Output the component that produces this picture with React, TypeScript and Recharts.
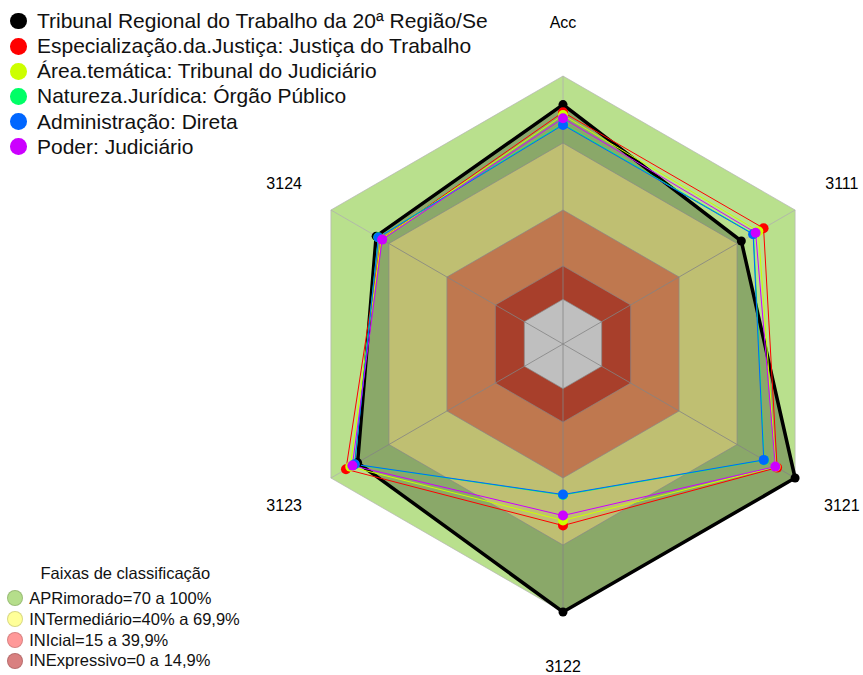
import { RadarChart, Radar, PolarGrid, PolarAngleAxis, PolarRadiusAxis } from "recharts";

// Axes of the radar (clockwise from the top)
const categories = ["Acc", "3111", "3121", "3122", "3123", "3124"];

// Scores (%) per series, same order as categories
const tribunal = [87.2, 72.2, 100, 100, 86.2, 76.6];
const especializacao = [83.8, 83.7, 90.7, 61.3, 92.2, 74.0];
const areaTematica = [82.5, 81.0, 90.0, 59.0, 90.0, 74.0];
const natureza = [78.5, 78.5, 84.0, 47.6, 87.8, 75.5];
const administracao = [78.1, 78.3, 83.8, 47.4, 87.7, 75.4];
const poder = [81.1, 79.6, 89.8, 56.8, 88.9, 73.5];

const seriesNames = [
    "Tribunal Regional do Trabalho da 20ª Região/Se",
    "Especialização.da.Justiça: Justiça do Trabalho",
    "Área.temática: Tribunal do Judiciário",
    "Natureza.Jurídica: Órgão Público",
    "Administração: Direta",
    "Poder: Judiciário",
];
const seriesValues = [tribunal, especializacao, areaTematica, natureza, administracao, poder];
const seriesColors = ["#000000", "#FF0000", "#CCFF00", "#00FF66", "#0066FF", "#CC00FF"];

// Classification bands (upper limits, %)
const bandLimits = [100, 70, 40, 15, 0];
const bandFills = ["#B9E08D", "#FFFF99", "#FFA06A", "#E0553A", "#FFFFFF"];

const bandLegendLabels = [
    "APRimorado=70 a 100%",
    "INTermediário=40% a 69,9%",
    "INIcial=15 a 39,9%",
    "INExpressivo=0 a 14,9%",
];
const bandLegendColors = ["#B5DE8B", "#FFFF99", "#FF9999", "#D98080"];

const FONT = '"Liberation Sans", Arial, sans-serif';

const rows = categories.map((cat, i) => {
    const row: Record<string, string | number> = { cat };
    seriesValues.forEach((vals, s) => {
        row[`s${s}`] = vals[i];
    });
    bandLimits.forEach((lim, b) => {
        row[`b${b}`] = lim;
    });
    return row;
});

function AxisTick(props: any) {
    const { x, y, payload } = props;
    return (
        <text
            x={x}
            y={y}
            textAnchor="middle"
            dominantBaseline="central"
            fontSize={16}
            fontFamily={FONT}
            fill="#000"
        >
            {payload.value}
        </text>
    );
}

function makeDot(color: string, r: number) {
    return (p: any) => (
        <circle key={`dot-${color}-${p.index}`} cx={p.cx} cy={p.cy} r={r} fill={color} fillOpacity={1} stroke="none" />
    );
}

export default function App() {
    return (
        <div style={{ position: "relative", width: 863, height: 675, fontFamily: FONT, overflow: "hidden" }}>
            <style>{`html, body { margin: 0; padding: 0; overflow: hidden; }`}</style>
            <RadarChart
                width={863}
                height={675}
                data={rows}
                cx={563}
                cy={344}
                outerRadius={268}
                margin={{ top: 0, right: 0, bottom: 0, left: 0 }}
            >
                <PolarRadiusAxis domain={[-20, 100]} type="number" tick={false} axisLine={false} />
                <PolarAngleAxis dataKey="cat" tick={<AxisTick />} tickSize={54} tickLine={false} axisLine={false} />
                {bandLimits.map((lim, b) => (
                    <Radar
                        key={`band-${lim}`}
                        dataKey={`b${b}`}
                        fill={bandFills[b]}
                        fillOpacity={1}
                        stroke="#B4B4B4"
                        strokeWidth={0.7}
                        dot={false}
                        isAnimationActive={false}
                        zIndex={-150}
                    />
                ))}
                <PolarGrid gridType="polygon" polarRadius={[]} stroke="#B0B0B0" strokeWidth={0.8} zIndex={-100} />
                {seriesValues.map((_, s) => (
                    <Radar
                        key={`series-${s}`}
                        dataKey={`s${s}`}
                        name={seriesNames[s]}
                        stroke={seriesColors[s]}
                        strokeWidth={s === 0 ? 3.5 : 1}
                        fill={s === 0 ? "#000000" : "none"}
                        fillOpacity={s === 0 ? 0.25 : 0}
                        dot={makeDot(seriesColors[s], s === 0 ? 4.5 : 5)}
                        isAnimationActive={false}
                        zIndex={100 + s}
                    />
                ))}
            </RadarChart>

            {/* series legend, top left */}
            <div style={{ position: "absolute", left: 10, top: 8.5 }}>
                {seriesNames.map((name, s) => (
                    <div key={name} style={{ display: "flex", alignItems: "center", height: 25.15 }}>
                        <span
                            style={{
                                display: "inline-block",
                                width: 16.6,
                                height: 16.6,
                                borderRadius: "50%",
                                background: seriesColors[s],
                                marginRight: 10.4,
                                flex: "none",
                            }}
                        />
                        <span style={{ fontSize: 21, color: "#111", whiteSpace: "nowrap" }}>{name}</span>
                    </div>
                ))}
            </div>

            {/* classification bands legend, bottom left */}
            <div
                style={{
                    position: "absolute",
                    left: 40.5,
                    top: 564,
                    fontSize: 16.5,
                    color: "#111",
                    whiteSpace: "nowrap",
                }}
            >
                Faixas de classificação
            </div>
            <div style={{ position: "absolute", left: 6.7, top: 587.8, color: "#111" }}>
                {bandLegendLabels.map((label, b) => (
                    <div key={label} style={{ display: "flex", alignItems: "center", height: 20.9 }}>
                        <span
                            style={{
                                display: "inline-block",
                                width: 16,
                                height: 16,
                                boxSizing: "border-box",
                                borderRadius: "50%",
                                background: bandLegendColors[b],
                                border: "0.5px solid rgba(0,0,0,0.15)",
                                marginRight: 6.6,
                                flex: "none",
                            }}
                        />
                        <span style={{ fontSize: 16.5, whiteSpace: "nowrap" }}>{label}</span>
                    </div>
                ))}
            </div>
        </div>
    );
}
